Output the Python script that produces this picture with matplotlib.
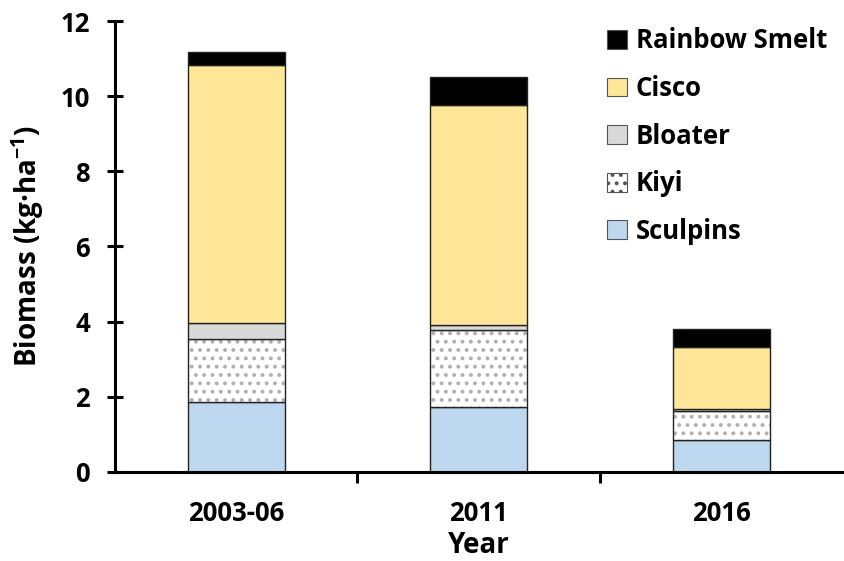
import numpy as np
import matplotlib
matplotlib.use('Agg')
import matplotlib.pyplot as plt
from matplotlib.patches import Patch

plt.rcParams['font.family'] = ['Open Sans', 'DejaVu Sans']
plt.rcParams['font.weight'] = 'bold'
plt.rcParams['mathtext.fontset'] = 'custom'
plt.rcParams['mathtext.rm'] = 'Open Sans:bold'
plt.rcParams['mathtext.bf'] = 'Open Sans:bold'
plt.rcParams['mathtext.default'] = 'bf'
plt.rcParams['hatch.linewidth'] = 1.6

years = ['2003-06', '2011', '2016']
species = ['Sculpins', 'Kiyi', 'Bloater', 'Cisco', 'Rainbow Smelt']
sculpins = [1.86, 1.73, 0.85]
kiyi = [1.68, 2.05, 0.77]
bloater = [0.43, 0.13, 0.06]
cisco = [6.86, 5.86, 1.65]
smelt = [0.35, 0.74, 0.48]

colors = ['#BDD7EE', 'white', '#D9D9D9', '#FFE699', 'black']

fig = plt.figure(figsize=(8.44, 5.61), dpi=100)
ax = fig.add_axes([0.136, 0.159, 0.862, 0.8035])

x = np.arange(len(years))
w = 0.4
bottom = np.zeros(len(years))
for name, vals, c in zip(species, [sculpins, kiyi, bloater, cisco, smelt], colors):
    vals = np.array(vals)
    if name == 'Kiyi':
        # dotted fill, gray dots, black outline drawn on top
        ax.bar(x, vals, w, bottom=bottom, color='white', edgecolor='#b0b0b0',
               hatch='..', linewidth=0)
        ax.bar(x, vals, w, bottom=bottom, fill=False, edgecolor='#222222',
               linewidth=1.0)
    else:
        ax.bar(x, vals, w, bottom=bottom, color=c, edgecolor='#222222',
               linewidth=1.0)
    bottom += vals

ax.set_xlim(-0.5, 2.5)
ax.set_ylim(0, 12)
ax.set_yticks(np.arange(0, 13, 2))
ax.set_xticks(x)
ax.set_xticklabels(years)
ax.tick_params(axis='x', which='major', length=0, pad=20, labelsize=18.5)
ax.set_xticks([0.5, 1.5], minor=True)
ax.tick_params(axis='x', which='minor', direction='out', length=8, width=2.2)
ax.tick_params(axis='y', direction='inout', length=12, width=2.2, labelsize=18.5, pad=12)

for s in ['top', 'right']:
    ax.spines[s].set_visible(False)
for s in ['left', 'bottom']:
    ax.spines[s].set_linewidth(2.2)

ax.set_ylabel('Biomass (kg\u00b7ha$^{-1}$)', fontsize=20, fontweight='bold', labelpad=10)
ax.set_xlabel('Year', fontsize=20, fontweight='bold', labelpad=3)

handles = []
for name, c in zip(species, colors):
    if name == 'Kiyi':
        handles.append(Patch(facecolor='white', edgecolor='#555555', hatch='..', linewidth=0.8))
    else:
        handles.append(Patch(facecolor=c, edgecolor='#555555', linewidth=0.8))
leg = ax.legend(handles[::-1], species[::-1], loc='upper right', frameon=False,
                fontsize=18.5, handlelength=0.75, handleheight=0.75, handletextpad=0.35,
                labelspacing=0.8, bbox_to_anchor=(1.0, 1.02), borderaxespad=0.2)
for t in leg.get_texts():
    t.set_fontweight('bold')

fig.savefig('out.png', dpi=100)
